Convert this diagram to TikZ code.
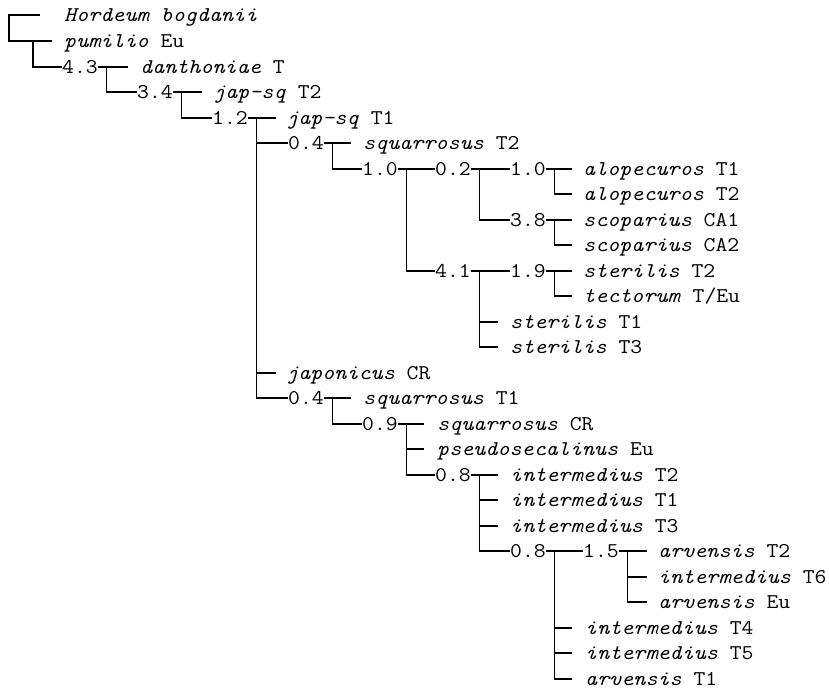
\documentclass[tikz,border=0pt]{standalone}
\usepackage{fontspec}
\setmonofont{Latin Modern Mono}[FakeStretch=1.095]
\begin{document}
\begin{tikzpicture}[x=1pt,y=-1pt,
  lf/.style={anchor=west,inner sep=0pt,text height=13pt,text depth=1pt,
    font=\ttfamily\fontsize{21}{25}\selectfont},
  br/.style={line width=1.8pt,line join=miter}]
\useasboundingbox (0,0) rectangle (829,689);
% rows
\def\ra{15}\def\rb{41}\def\rc{67}\def\rd{92}\def\re{118}
\def\rf{143}\def\rg{169}\def\rh{194}\def\ri{220}\def\rj{245}
\def\rk{271}\def\rl{296}\def\rm{322}\def\rn{347}\def\ro{373}
\def\rp{398}\def\rq{424}\def\rr{449}\def\rs{475}\def\rt{500}
\def\ru{526}\def\rv{551}\def\rw{577}\def\rx{602}\def\ry{628}
\def\rz{653}\def\rZ{679}
% nodes
\node[lf] (tHor) at (64,\ra) {\textit{Hordeum bogdanii}};
\node[lf] (tPum) at (64,\rb) {\textit{pumilio} Eu};
\node[lf] (l43) at (62,\rc) {4.3};
\node[lf] (tDan) at (140,\rc) {\textit{danthoniae} T};
\node[lf] (l34) at (137,\rd) {3.4};
\node[lf] (tJ2) at (213,\rd) {\textit{jap-sq} T2};
\node[lf] (l12) at (212,\re) {1.2};
\node[lf] (tJ1) at (286,\re) {\textit{jap-sq} T1};
\node[lf] (l04a) at (288,\rf) {0.4};
\node[lf] (tSqT2) at (363,\rf) {\textit{squarrosus} T2};
\node[lf] (l10a) at (362,\rg) {1.0};
\node[lf] (l02) at (435,\rg) {0.2};
\node[lf] (l10b) at (510,\rg) {1.0};
\node[lf] (tAl1) at (583,\rg) {\textit{alopecuros} T1};
\node[lf] (tAl2) at (583,\rh) {\textit{alopecuros} T2};
\node[lf] (l38) at (510,\ri) {3.8};
\node[lf] (tSc1) at (583,\ri) {\textit{scoparius} CA1};
\node[lf] (tSc2) at (583,\rj) {\textit{scoparius} CA2};
\node[lf] (l41) at (435,\rk) {4.1};
\node[lf] (l19) at (510,\rk) {1.9};
\node[lf] (tSt2) at (583,\rk) {\textit{sterilis} T2};
\node[lf] (tTec) at (583,\rl) {\textit{tectorum} T/Eu};
\node[lf] (tSt1) at (510,\rm) {\textit{sterilis} T1};
\node[lf] (tSt3) at (510,\rn) {\textit{sterilis} T3};
\node[lf] (tJapCR) at (286,\ro) {\textit{japonicus} CR};
\node[lf] (l04b) at (288,\rp) {0.4};
\node[lf] (tSqT1) at (363,\rp) {\textit{squarrosus} T1};
\node[lf] (l09) at (362,\rq) {0.9};
\node[lf] (tSqCR) at (437,\rq) {\textit{squarrosus} CR};
\node[lf] (tPse) at (437,\rr) {\textit{pseudosecalinus} Eu};
\node[lf] (l08a) at (435,\rs) {0.8};
\node[lf] (tIT2) at (510,\rs) {\textit{intermedius} T2};
\node[lf] (tIT1) at (510,\rt) {\textit{intermedius} T1};
\node[lf] (tIT3) at (510,\ru) {\textit{intermedius} T3};
\node[lf] (l08b) at (510,\rv) {0.8};
\node[lf] (l15) at (583,\rv) {1.5};
\node[lf] (tArT2) at (658,\rv) {\textit{arvensis} T2};
\node[lf] (tIT6) at (658,\rw) {\textit{intermedius} T6};
\node[lf] (tArEu) at (658,\rx) {\textit{arvensis} Eu};
\node[lf] (tIT4) at (585,\ry) {\textit{intermedius} T4};
\node[lf] (tIT5) at (585,\rz) {\textit{intermedius} T5};
\node[lf] (tArT1) at (585,\rZ) {\textit{arvensis} T1};
% branch points
\coordinate (v0) at (9,\ra);
\coordinate (v1) at (33,\rb);
\foreach \l in {l43,l34,l12,l04a,l10a,l02,l10b,l38,l41,l19,l04b,l09,l08a,l08b,l15}
  \coordinate (v\l) at ([xshift=8.5pt]\l.east);
% root
\draw[br] ([xshift=-24pt]tHor.west) -- (v0) |- ([xshift=-12pt]tPum.west);
\draw[br] (v1) |- (l43.west);
% 4.3
\draw[br] (l43.east) -- ([xshift=-12pt]tDan.west);
\draw[br] (vl43) |- (l34.west);
% 3.4
\draw[br] (l34.east) -- ([xshift=-11pt]tJ2.west);
\draw[br] (vl34) |- (l12.west);
% 1.2
\draw[br] (l12.east) -- ([xshift=-10pt]tJ1.west);
\draw[br] (vl12) |- (l04b.west);
\draw[br] (vl12 |- l04a.west) -- (l04a.west);
\draw[br] (vl12 |- tJapCR.west) -- ([xshift=-10pt]tJapCR.west);
% 0.4 a
\draw[br] (l04a.east) -- ([xshift=-12pt]tSqT2.west);
\draw[br] (vl04a) |- (l10a.west);
% 1.0 a
\draw[br] (l10a.east) -- (l02.west);
\draw[br] (vl10a) |- (l41.west);
% 0.2
\draw[br] (l02.east) -- (l10b.west);
\draw[br] (vl02) |- (l38.west);
% 1.0 b
\draw[br] (l10b.east) -- ([xshift=-11pt]tAl1.west);
\draw[br] (vl10b) |- ([xshift=-11pt]tAl2.west);
% 3.8
\draw[br] (l38.east) -- ([xshift=-11pt]tSc1.west);
\draw[br] (vl38) |- ([xshift=-11pt]tSc2.west);
% 4.1
\draw[br] (l41.east) -- (l19.west);
\draw[br] (vl41) |- ([xshift=-12pt]tSt3.west);
\draw[br] (vl41 |- tSt1.west) -- ([xshift=-12pt]tSt1.west);
% 1.9
\draw[br] (l19.east) -- ([xshift=-11pt]tSt2.west);
\draw[br] (vl19) |- ([xshift=-11pt]tTec.west);
% 0.4 b
\draw[br] (l04b.east) -- ([xshift=-12pt]tSqT1.west);
\draw[br] (vl04b) |- (l09.west);
% 0.9
\draw[br] (l09.east) -- ([xshift=-13pt]tSqCR.west);
\draw[br] (vl09) |- (l08a.west);
\draw[br] (vl09 |- tPse.west) -- ([xshift=-13pt]tPse.west);
% 0.8 a
\draw[br] (l08a.east) -- ([xshift=-12pt]tIT2.west);
\draw[br] (vl08a) |- (l08b.west);
\draw[br] (vl08a |- tIT1.west) -- ([xshift=-12pt]tIT1.west);
\draw[br] (vl08a |- tIT3.west) -- ([xshift=-12pt]tIT3.west);
% 0.8 b
\draw[br] (l08b.east) -- (l15.west);
\draw[br] (vl08b) |- ([xshift=-13pt]tArT1.west);
\draw[br] (vl08b |- tIT4.west) -- ([xshift=-13pt]tIT4.west);
\draw[br] (vl08b |- tIT5.west) -- ([xshift=-13pt]tIT5.west);
% 1.5
\draw[br] (l15.east) -- ([xshift=-11pt]tArT2.west);
\draw[br] (vl15) |- ([xshift=-11pt]tArEu.west);
\draw[br] (vl15 |- tIT6.west) -- ([xshift=-11pt]tIT6.west);
\end{tikzpicture}
\end{document}
